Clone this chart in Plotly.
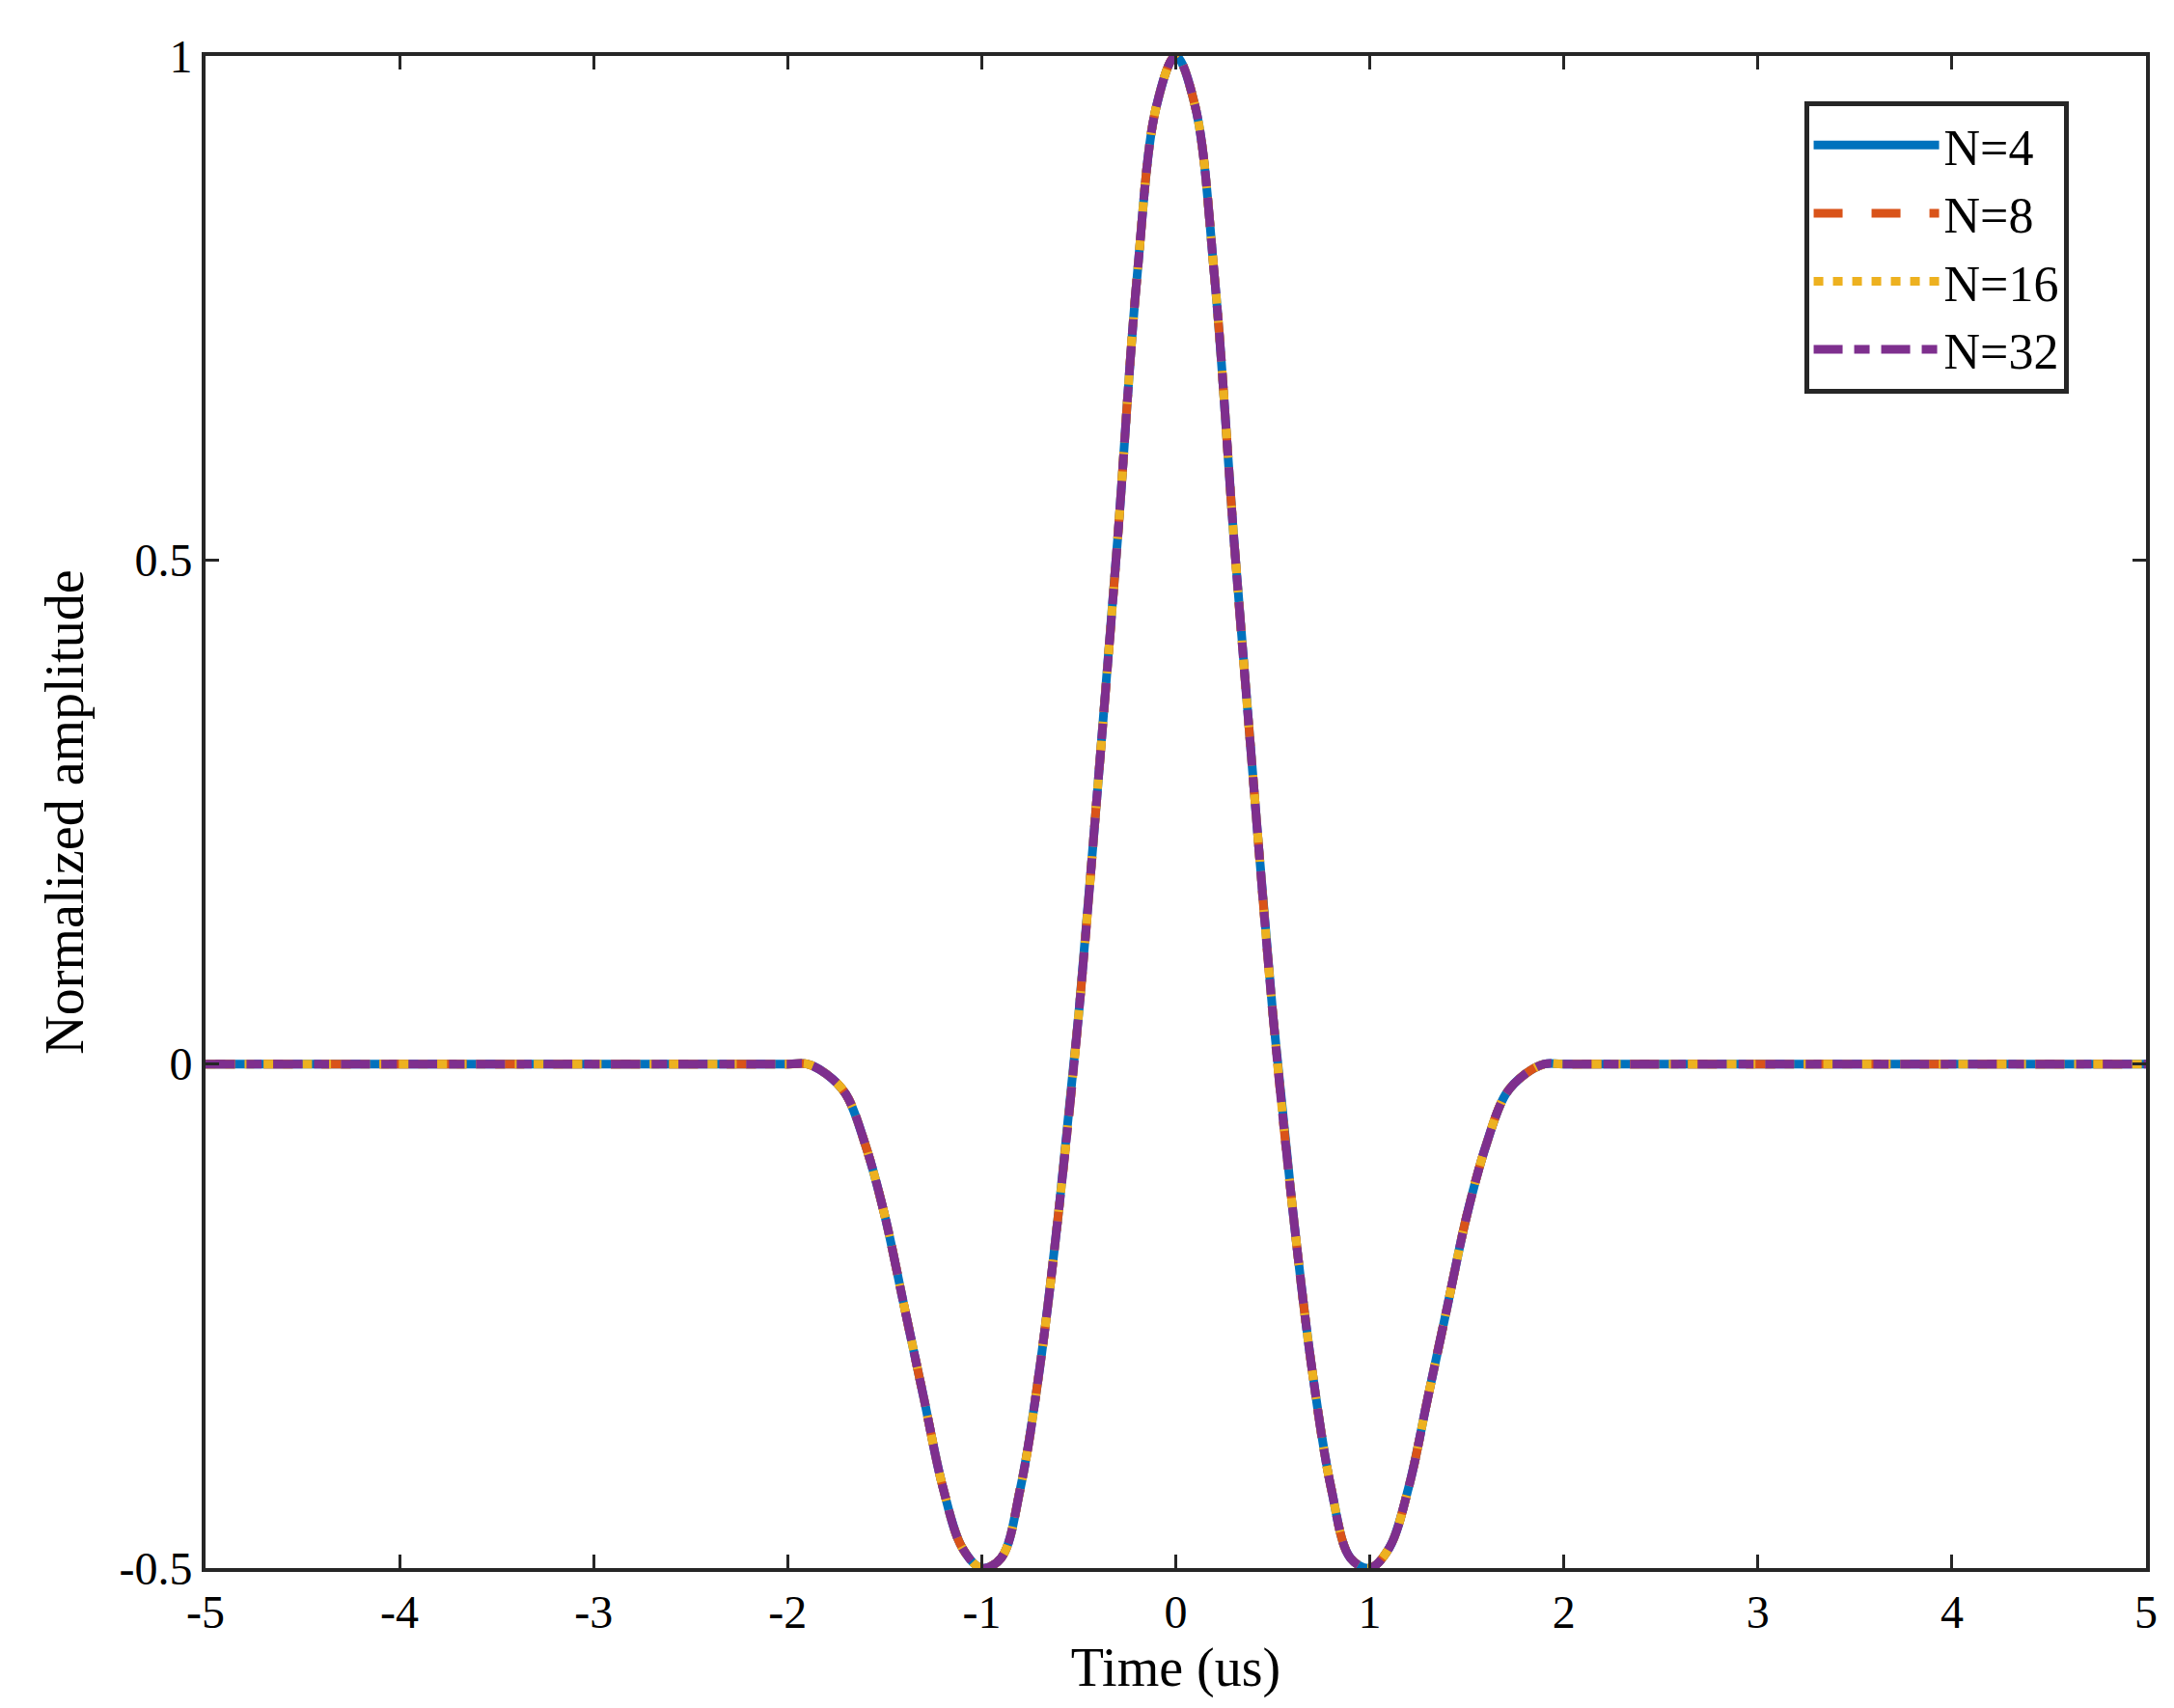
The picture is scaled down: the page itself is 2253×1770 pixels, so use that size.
import plotly.graph_objects as go

t = [-5, -2.0, -1.9, -1.8, -1.7, -1.6, -1.5, -1.4, -1.3, -1.2, -1.1, -1.0, -0.9, -0.8, -0.7, -0.6, -0.5, -0.4, -0.3, -0.2, -0.1, 0.0,
     0.1, 0.2, 0.3, 0.4, 0.5, 0.6, 0.7, 0.8, 0.9, 1.0, 1.1, 1.2, 1.3, 1.4, 1.5, 1.6, 1.7, 1.8, 1.9, 2.0, 5]
amp = [0, 0, 0.0, -0.01, -0.03, -0.08, -0.15, -0.24, -0.33, -0.42, -0.48, -0.50, -0.49, -0.42, -0.30, -0.14, 0.05, 0.28, 0.52, 0.78, 0.95, 1.0,
       0.95, 0.78, 0.52, 0.28, 0.05, -0.14, -0.30, -0.42, -0.49, -0.50, -0.48, -0.42, -0.33, -0.24, -0.15, -0.08, -0.03, -0.01, 0.0, 0, 0]
x_ticks = [-5, -4, -3, -2, -1, 0, 1, 2, 3, 4, 5]
x_labels = ["-5", "-4", "-3", "-2", "-1", "0", "1", "2", "3", "4", "5"]
y_ticks = [-0.5, 0, 0.5, 1]
y_labels = ["-0.5", "0", "0.5", "1"]
names = ["N=4", "N=8", "N=16", "N=32"]
colors = ["#0072BD", "#D95319", "#EDB120", "#7E2F8E"]
dashes = ["solid", "30px,30px", "10px,10px", "30px,12px,16px,12px"]

fig = go.Figure()
for n, c, d in zip(names, colors, dashes):
    fig.add_trace(go.Scatter(x=t, y=amp, mode="lines", name=n,
                             line=dict(color=c, width=9, dash=d, shape="spline", smoothing=1.0)))

ax = dict(showline=True, linecolor="#262626", linewidth=4, mirror="ticks", ticks="inside",
          ticklen=14, tickwidth=3, tickcolor="#262626", showgrid=False, zeroline=False)
fig.update_layout(
    width=2253, height=1770, paper_bgcolor="white", plot_bgcolor="white",
    font=dict(family="Liberation Serif", size=48, color="black"),
    margin=dict(l=205, r=37, t=50, b=153),
    xaxis=dict(range=[-5, 5], tickvals=x_ticks, ticktext=x_labels,
               title=dict(text="Time (us)", font=dict(size=56), standoff=8), **ax),
    yaxis=dict(range=[-0.5, 1], tickvals=y_ticks, ticktext=y_labels,
               title=dict(text="Normalized amplitude", font=dict(size=56), standoff=20), **ax),
    legend=dict(x=0.96, y=0.97, xanchor="right", yanchor="top", bgcolor="white",
                bordercolor="#262626", borderwidth=5, font=dict(size=52),
                itemwidth=130, tracegroupgap=0),
    showlegend=True,
)
fig.write_html("out.html")
